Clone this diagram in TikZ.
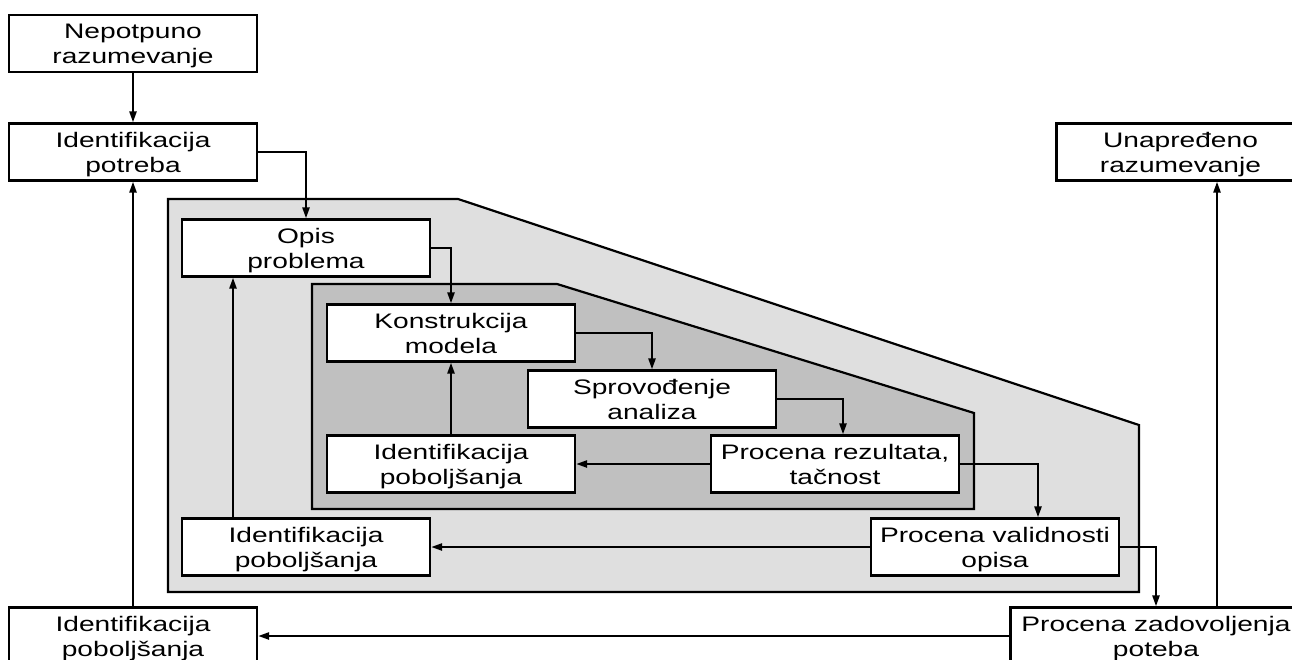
\documentclass[tikz,border=0pt]{standalone}
\usepackage{fontspec}
\setmainfont{Liberation Sans}[FakeStretch=1.34]
\usetikzlibrary{arrows.meta}
\definecolor{outerfill}{RGB}{223,223,223}
\definecolor{innerfill}{RGB}{192,192,192}
\newcommand{\twol}[2]{\rule{0pt}{20pt}#1\\#2\rule[-5pt]{0pt}{5pt}}
\tikzset{
  box/.style={draw=black, line width=2.2pt, fill=white, inner sep=0pt,
    minimum width=248pt, minimum height=57pt, align=center,
    font=\fontsize{21}{25}\selectfont},
  arr/.style={line width=2.3pt, -{Triangle[length=11pt,width=7pt]}},
  region/.style={draw=black, line width=2.2pt, line join=miter}
}
\begin{document}
\begin{tikzpicture}[x=1pt,y=-1pt]
\useasboundingbox (0,0) rectangle (1292,659);
\clip (0,0) rectangle (1292,659);
\fill[white] (0,0) rectangle (1292,659);
% shaded regions
\draw[region, fill=outerfill] (168,199) -- (458,199) -- (1139,425) -- (1139,592) -- (168,592) -- cycle;
\draw[region, fill=innerfill] (312,284) -- (557,284) -- (974,413) -- (974,509) -- (312,509) -- cycle;
% nodes
\node[box] (nep) at (133,43.5) {\twol{Nepotpuno}{razumevanje}};
\node[box] (idp) at (133,152) {\twol{Identifikacija}{potreba}};
\node[box] (una) at (1180.5,152) {\twol{Unapređeno}{razumevanje}};
\node[box] (opis) at (306,248) {\twol{Opis}{problema}};
\node[box] (kon) at (451,333) {\twol{Konstrukcija}{modela}};
\node[box] (spr) at (652,399) {\twol{Sprovođenje}{analiza}};
\node[box] (prr) at (835,464) {\twol{Procena rezultata,}{tačnost}};
\node[box] (ipi) at (451,464) {\twol{Identifikacija}{poboljšanja}};
\node[box] (prv) at (995,547) {\twol{Procena validnosti}{opisa}};
\node[box] (ipo) at (306,547) {\twol{Identifikacija}{poboljšanja}};
\node[box, minimum width=291pt] (pzd) at (1156,636) {\twol{Procena zadovoljenja}{poteba}};
\node[box] (ipb) at (133,636) {\twol{Identifikacija}{poboljšanja}};
% connectors
\draw[arr] (nep.south) -- (idp.north);
\draw[arr] (idp.east) -| (opis.north);
\draw[arr] (opis.east) -| (kon.north);
\draw[arr] (kon.east) -| (spr.north);
\draw[arr] (spr.east) -| ([xshift=8pt]prr.north);
\draw[arr] (prr.west) -- (ipi.east);
\draw[arr] (ipi.north) -- (ipi.north |- kon.south);
\draw[arr] (prr.east) -| ([xshift=43pt]prv.north);
\draw[arr] (prv.west) -- (ipo.east);
\draw[arr] ([xshift=-73pt]ipo.north) -- ([xshift=-73pt]opis.south);
\draw[arr] (prv.east) -| (pzd.north);
\draw[arr] (pzd.west) -- (ipb.east);
\draw[arr] (ipb.north) -- (ipb.north |- idp.south);
\draw[arr] ([xshift=61pt]pzd.north) coordinate (pt) -- (pt |- una.south);
\end{tikzpicture}
\end{document}
